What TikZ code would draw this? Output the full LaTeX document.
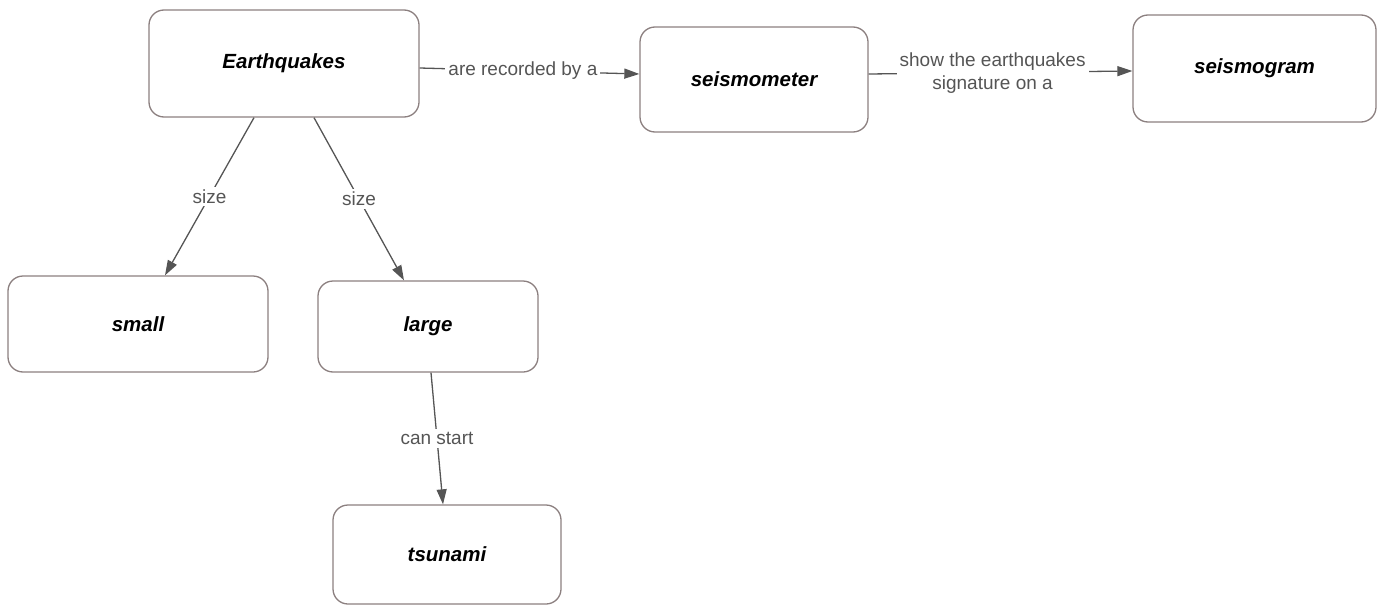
\documentclass[tikz,border=0pt]{standalone}
\usepackage{fontspec}
\setmainfont{Liberation Sans}
\usetikzlibrary{arrows.meta}
\definecolor{boxline}{RGB}{140,128,128}
\definecolor{edgeline}{RGB}{85,85,85}
\definecolor{labeltext}{RGB}{85,85,85}
\tikzset{
  concept/.style={draw=boxline, line width=1.3pt, rounded corners=15pt, fill=white,
    font=\fontsize{20.5}{24}\selectfont\bfseries\itshape, text=black, inner sep=0pt},
  link/.style={draw=edgeline, line width=1.3pt, -{Triangle[length=15pt,width=10pt]}},
  linklabel/.style={fill=white, text=labeltext, inner sep=3pt,
    font=\fontsize{19}{23}\selectfont, align=center}
}
\begin{document}
\begin{tikzpicture}[x=1pt,y=-1pt]
\useasboundingbox (0,0) rectangle (1382,605);
\node[concept, minimum width=270pt, minimum height=107pt] (eq) at (284,63.5) {Earthquakes};
\node[concept, minimum width=228pt, minimum height=105pt] (sm) at (754,79.5) {seismometer};
\node[concept, minimum width=243pt, minimum height=107pt] (sg) at (1254.5,68.5) {seismogram};
\node[concept, minimum width=260pt, minimum height=96pt] (small) at (138,324) {small};
\node[concept, minimum width=220pt, minimum height=91pt] (large) at (428,326.5) {large};
\node[concept, minimum width=228pt, minimum height=99pt] (ts) at (447,554.5) {tsunami};

\draw[link] ([yshift=-4.5pt]eq.east) -- node[linklabel, pos=0.47] {are recorded by a} ([yshift=5.5pt]sm.west);
\draw[link] ([yshift=5.5pt]sm.east) -- node[linklabel, pos=0.47] {show the earthquakes\\signature on a} ([yshift=-2.5pt]sg.west);
\draw[link] ([xshift=-30pt]eq.south) -- node[linklabel, pos=0.5] {size} ([xshift=27pt]small.north);
\draw[link] ([xshift=30pt]eq.south) -- node[linklabel, pos=0.5] {size} ([xshift=-24pt]large.north);
\draw[link] ([xshift=3pt]large.south) -- node[linklabel, pos=0.5] {can start} ([xshift=-4pt]ts.north);
\end{tikzpicture}
\end{document}
